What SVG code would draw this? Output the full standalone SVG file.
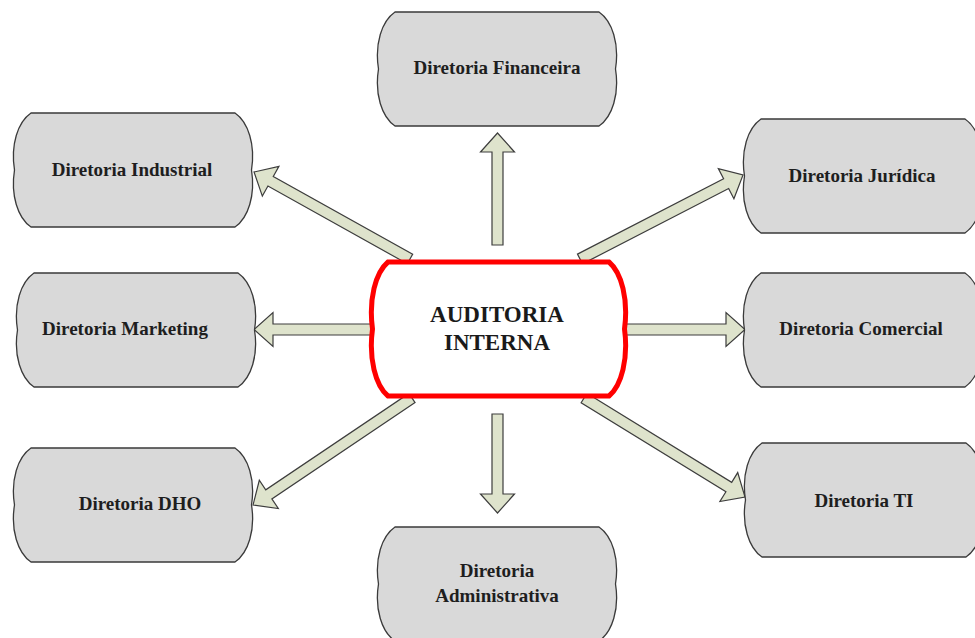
<svg xmlns="http://www.w3.org/2000/svg" xmlns:xlink="http://www.w3.org/1999/xlink" width="975" height="638" viewBox="0 0 975 638">
<style>
.box{fill:#d9d9d9;stroke:#3a3a3a;stroke-width:1.3}
.center{fill:#ffffff;stroke:#ff0000;stroke-width:5}
.arrow{fill:#dee3cc;stroke:#3d3d3d;stroke-width:1.2;stroke-linejoin:miter}
text{font-family:'Liberation Serif','DejaVu Serif',serif;font-weight:bold;text-anchor:middle}
.lbl{font-size:19px;fill:#1e1e1e}
.big{font-size:23px;fill:#1a1a1a}
</style>
<defs>
<path id="tape" d="M19,0 H223 C236.3,9.1 243.5,32 239.5,57 C243.5,82 236.3,104.9 223,114 H19 C5.7,104.9 -1.5,82 2.5,57 C-1.5,32 5.7,9.1 19,0 Z"/>
</defs>
<rect width="975" height="638" fill="#ffffff"/>
<g id="connectors">
<path class="arrow" transform="translate(497.5,245) rotate(-90)" d="M0,-5.5 H93 V-17 L112,0 L93,17 V5.5 H0 Z"/>
<path class="arrow" transform="translate(497.5,414) rotate(90)" d="M0,-5.5 H80 V-17 L99,0 L80,17 V5.5 H0 Z"/>
<path class="arrow" transform="translate(372,329.5) rotate(180)" d="M0,-5.5 H99 V-17 L118,0 L99,17 V5.5 H0 Z"/>
<path class="arrow" transform="translate(625,329.5)" d="M0,-5.5 H101 V-17 L120,0 L101,17 V5.5 H0 Z"/>
<path class="arrow" transform="translate(410,259) rotate(-150.85)" d="M0,-5.5 H159.6 V-17 L178.6,0 L159.6,17 V5.5 H0 Z"/>
<path class="arrow" transform="translate(580,259) rotate(-27.27)" d="M0,-5.5 H164.4 V-17 L183.4,0 L164.4,17 V5.5 H0 Z"/>
<path class="arrow" transform="translate(412,398) rotate(146.06)" d="M0,-5.5 H172.6 V-17 L191.6,0 L172.6,17 V5.5 H0 Z"/>
<path class="arrow" transform="translate(584,398) rotate(31.59)" d="M0,-5.5 H170 V-17 L189,0 L170,17 V5.5 H0 Z"/>
</g>
<g id="financeira">
<use xlink:href="#tape" href="#tape" class="box" transform="translate(376,12)"/>
<text class="lbl" x="497" y="74">Diretoria Financeira</text>
</g>
<g id="industrial">
<use xlink:href="#tape" href="#tape" class="box" transform="translate(12,113)"/>
<text class="lbl" x="132" y="176">Diretoria Industrial</text>
</g>
<g id="marketing">
<use xlink:href="#tape" href="#tape" class="box" transform="translate(15,273)"/>
<text class="lbl" x="125" y="335">Diretoria Marketing</text>
</g>
<g id="dho">
<use xlink:href="#tape" href="#tape" class="box" transform="translate(12,448)"/>
<text class="lbl" x="140" y="510">Diretoria DHO</text>
</g>
<g id="administrativa">
<use xlink:href="#tape" href="#tape" class="box" transform="translate(376,527)"/>
<text class="lbl" x="497" y="577">Diretoria</text>
<text class="lbl" x="497" y="602">Administrativa</text>
</g>
<g id="juridica">
<use xlink:href="#tape" href="#tape" class="box" transform="translate(742,119)"/>
<text class="lbl" x="862" y="182">Diretoria Jurídica</text>
</g>
<g id="comercial">
<use xlink:href="#tape" href="#tape" class="box" transform="translate(742,273)"/>
<text class="lbl" x="861" y="335">Diretoria Comercial</text>
</g>
<g id="ti">
<use xlink:href="#tape" href="#tape" class="box" transform="translate(743,443)"/>
<text class="lbl" x="864" y="507">Diretoria TI</text>
</g>
<g id="auditoria">
<path class="center" d="M388,262 H609 C621.6,272.7 628.5,299.5 624.5,329 C628.5,358.5 621.6,385.3 609,396 H388 C375.4,385.3 368.5,358.5 372.5,329 C368.5,299.5 375.4,272.7 388,262 Z"/>
<text class="big" x="497" y="322">AUDITORIA</text>
<text class="big" x="497" y="350">INTERNA</text>
</g>
</svg>
